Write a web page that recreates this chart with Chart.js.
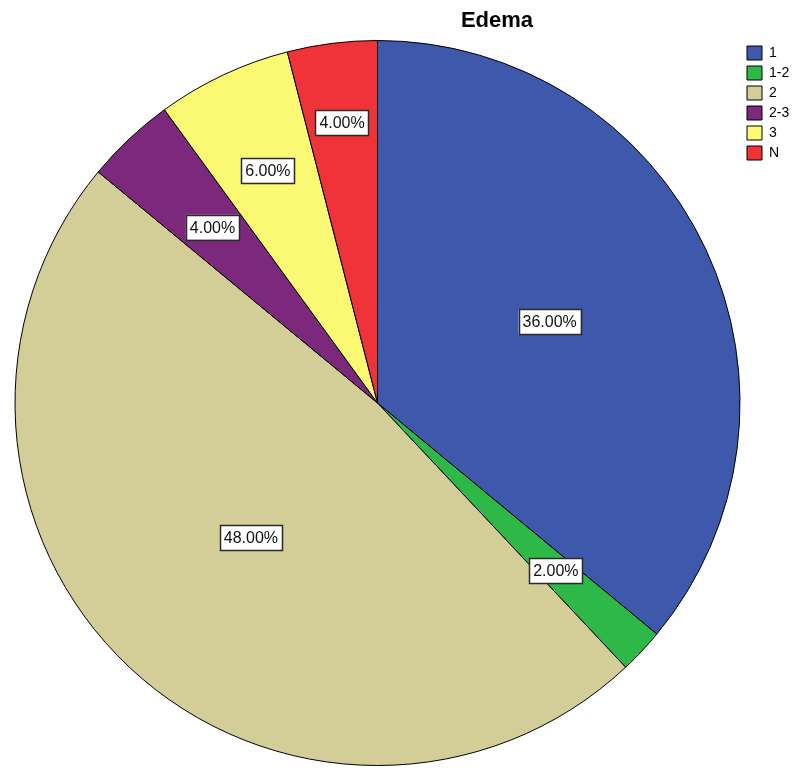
<!DOCTYPE html>
<html lang="en">
<head>
    <meta charset="UTF-8">
    <title>Edema</title>
    <script src="https://cdn.jsdelivr.net/npm/chart.js@4.4.0/dist/chart.umd.min.js"></script>
    <style>
        body {
            margin: 0;
            background-color: #ffffff;
        }
        .chart-box {
            width: 797px;
            height: 768px;
            position: relative;
        }
    </style>
</head>
<body>
    <div class="chart-box">
        <canvas id="edemaPie"></canvas>
    </div>

    <script>
        const categories = ['1', '1-2', '2', '2-3', '3', 'N'];
        const percentages = [36, 2, 48, 4, 6, 4];
        const sliceColors = ['#3E58AC', '#2EB848', '#D3CE97', '#7C287D', '#FBF873', '#EF3338'];

        // how far out (fraction of radius) each percentage label sits
        const labelRadius = [0.525, 0.675, 0.51, 0.665, 0.71, 0.78];

        const chartTitle = {
            id: 'chartTitle',
            afterDraw(chart) {
                const ctx = chart.ctx;
                ctx.save();
                ctx.font = 'bold 22px "Liberation Sans", Arial, sans-serif';
                ctx.fillStyle = '#000000';
                ctx.textAlign = 'center';
                ctx.textBaseline = 'middle';
                ctx.fillText('Edema', 497, 21);
                ctx.restore();
            }
        };

        const sliceLabels = {
            id: 'sliceLabels',
            afterDatasetsDraw(chart) {
                const ctx = chart.ctx;
                const arcs = chart.getDatasetMeta(0).data;
                ctx.save();
                ctx.font = '16px "Liberation Sans", Arial, sans-serif';
                ctx.textAlign = 'center';
                ctx.textBaseline = 'middle';
                arcs.forEach((arc, i) => {
                    const p = arc.getProps(['x', 'y', 'startAngle', 'endAngle', 'outerRadius'], true);
                    const mid = (p.startAngle + p.endAngle) / 2;
                    const r = p.outerRadius * labelRadius[i];
                    const cx = p.x + Math.cos(mid) * r;
                    const cy = p.y + Math.sin(mid) * r;
                    const text = percentages[i].toFixed(2) + '%';
                    const w = ctx.measureText(text).width + 8;
                    const h = 25;
                    ctx.fillStyle = '#ffffff';
                    ctx.fillRect(cx - w / 2, cy - h / 2, w, h);
                    ctx.strokeStyle = '#2a2a2a';
                    ctx.lineWidth = 1.5;
                    ctx.strokeRect(Math.round(cx - w / 2) + 0.5, Math.round(cy - h / 2) + 0.5, Math.round(w), h);
                    ctx.fillStyle = '#111111';
                    ctx.fillText(text, cx, cy + 1);
                });
                ctx.restore();
            }
        };

        new Chart(document.getElementById('edemaPie'), {
            type: 'pie',
            data: {
                labels: categories,
                datasets: [{
                    data: percentages,
                    backgroundColor: sliceColors,
                    borderColor: '#000000',
                    borderWidth: 1
                }]
            },
            options: {
                responsive: true,
                maintainAspectRatio: false,
                animation: false,
                layout: {
                    padding: { top: 40, left: 14, right: 8, bottom: 2 }
                },
                plugins: {
                    tooltip: { enabled: false },
                    title: { display: false },
                    legend: {
                        position: 'right',
                        align: 'start',
                        maxWidth: 48,
                        labels: {
                            boxWidth: 15,
                            boxHeight: 14,
                            padding: 6,
                            color: '#000000',
                            font: { size: 14, family: '"Liberation Sans", Arial, sans-serif' },
                            generateLabels(chart) {
                                return categories.map((c, i) => ({
                                    text: c,
                                    fillStyle: sliceColors[i],
                                    strokeStyle: '#000000',
                                    lineWidth: 1,
                                    index: i
                                }));
                            }
                        }
                    }
                }
            },
            plugins: [chartTitle, sliceLabels]
        });
    </script>
</body>
</html>
